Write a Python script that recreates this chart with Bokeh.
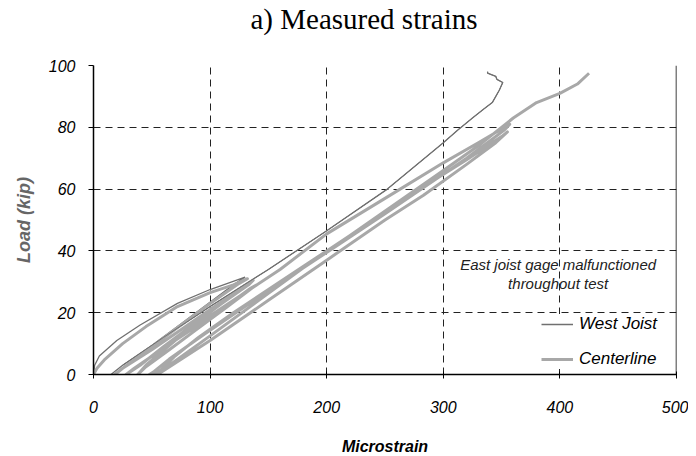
from bokeh.plotting import figure
from bokeh.models import Range1d, FixedTicker, Legend, LegendItem, Span, Label, Title
from bokeh.embed import file_html
from bokeh.resources import INLINE

# ---- data ----
x_ticks = [0, 100, 200, 300, 400, 500]
y_ticks = [0, 20, 40, 60, 80, 100]

centerline_strain = [
    0, 3, 10, 25, 45, 72, 100, 120, 132,
    125, 100, 75, 50, 30, 20, 18,
    25, 50, 75, 100, 125, 137,
    133, 110, 85, 60, 40, 30, 28,
    35, 60, 90, 115, 135, 140,
    136, 115, 90, 65, 45, 38,
    45, 70, 100, 130, 160, 200, 250, 300, 330, 357,
    352, 320, 285, 250, 210, 170, 130, 95, 65, 52, 48,
    57, 100, 150, 200, 250, 283, 320, 345, 355,
    350, 320, 280, 240, 200, 160, 120, 90, 70, 58, 52,
    65, 100, 140, 180, 220, 260, 300, 330, 360, 380, 400, 415, 425,
]
centerline_load = [
    0, 2, 5, 10, 15.5, 22, 26.5, 29, 31,
    29.5, 23, 16, 9, 3.5, 0.5, 0,
    2, 8, 14.5, 21, 27.5, 30.5,
    29, 23, 16, 9, 3, 0.5, 0,
    2, 8.5, 16, 22.5, 28, 29,
    28, 22, 15, 8, 2.5, 0,
    3, 11, 19, 26.5, 34, 45.5, 57, 68.5, 75, 81,
    79, 70, 61, 52, 42, 32, 22, 13, 5, 1, 0,
    0.5, 11, 24, 37, 50, 58, 68, 75, 78.5,
    77, 69.5, 60, 50, 40, 30, 20, 12, 6, 1.5, 0,
    3, 12.5, 23.5, 34.5, 45, 55.5, 66, 74, 83, 88, 91, 94, 97.5,
]

west_strain = [
    0, 1, 5, 20, 40, 72, 100, 130,
    120, 95, 70, 45, 25, 15,
    25, 60, 100, 150, 200, 252, 300, 312, 325, 335, 342, 348, 351, 346, 345, 338, 338,
]
west_load = [
    0, 3, 6, 11, 16, 23, 27.5, 31.5,
    29, 22, 15, 8, 3, 0,
    3, 12, 22, 34, 46.5, 60, 75, 79, 83, 86, 88, 92, 94.5, 95.5, 96.5, 97.5, 98,
]

title_text = "a) Measured strains"
note_lines = ["East joist gage malfunctioned", "throughout test"]

# ---- figure ----
p = figure(
    output_backend="svg", toolbar_location=None,
    frame_width=583, frame_height=309,
    min_border_left=93, min_border_right=12, min_border_top=64, min_border_bottom=75,
    x_range=Range1d(0, 500), y_range=Range1d(0, 100),
    title=None,
)
p.outline_line_color = None
p.background_fill_color = "white"
p.border_fill_color = "white"

# spacer between frame and title (added first -> closest to the frame)
p.add_layout(Title(text=" ", text_font_size="1px", standoff=24), "above")
p.add_layout(Title(text=title_text, text_font="Liberation Serif", text_font_size="29px",
                   text_font_style="normal", text_color="black", align="left",
                   offset=157, vertical_align="top", standoff=4), "above")

for ax in (p.xaxis[0], p.yaxis[0]):
    ax.axis_line_color = "black"
    ax.axis_line_width = 1.5
    ax.major_tick_line_color = "black"
    ax.minor_tick_line_color = None
    ax.major_label_text_font = "Liberation Sans"
    ax.major_label_text_font_style = "italic"
    ax.major_label_text_font_size = "16px"
    ax.major_label_text_color = "black"
    ax.axis_label_text_font = "Liberation Sans"
    ax.axis_label_text_font_style = "bold italic"

p.xaxis.ticker = FixedTicker(ticks=x_ticks)
p.yaxis.ticker = FixedTicker(ticks=y_ticks)
p.xaxis.major_tick_in = 3
p.xaxis.major_tick_out = 4
p.yaxis.major_tick_in = 0
p.yaxis.major_tick_out = 5
p.xaxis.major_label_standoff = 22
p.yaxis.major_label_standoff = 13

p.xaxis.axis_label = "Microstrain"
p.xaxis.axis_label_text_font_size = "16px"
p.xaxis.axis_label_text_color = "black"
p.xaxis.axis_label_standoff = 22

p.yaxis.axis_label = "Load (kip)"
p.yaxis.axis_label_text_font_size = "18px"
p.yaxis.axis_label_text_color = "#666666"
p.yaxis.axis_label_standoff = 12

p.xgrid.ticker = FixedTicker(ticks=x_ticks)
p.ygrid.ticker = FixedTicker(ticks=y_ticks)
for g in (p.xgrid[0], p.ygrid[0]):
    g.grid_line_color = "#222222"
    g.grid_line_dash = "7 5"
    g.grid_line_width = 1

# right border
p.add_layout(Span(location=500, dimension="height", line_color="black", line_width=1.5))

# ---- series ----
r_west = p.line(west_strain, west_load, line_color="#707070", line_width=1.3)
r_center = p.line(centerline_strain, centerline_load, line_color="#a8a8a8", line_width=3,
                  line_join="round")
r_west2 = p.line(west_strain[14:], west_load[14:], line_color="#707070", line_width=1)

legend = Legend(
    items=[LegendItem(label="West Joist", renderers=[r_west]),
           LegendItem(label="Centerline", renderers=[r_center])],
    location=(448, 5), orientation="vertical",
    background_fill_color="white", background_fill_alpha=1.0,
    border_line_color=None,
    label_text_font="Liberation Sans", label_text_font_style="italic",
    label_text_font_size="17px", label_text_color="black",
    glyph_width=32, glyph_height=20, label_height=20, spacing=15,
    padding=8, margin=0, label_standoff=6,
)
p.add_layout(legend)

for i, t in enumerate(note_lines):
    p.add_layout(Label(x=398.5, y=35.7 - 6.2 * i, text=t, text_align="center",
                       text_baseline="middle", text_font="Liberation Sans",
                       text_font_style="italic", text_font_size="15px",
                       text_color="#222222"))

open("out.html", "w").write(file_html(p, INLINE))
